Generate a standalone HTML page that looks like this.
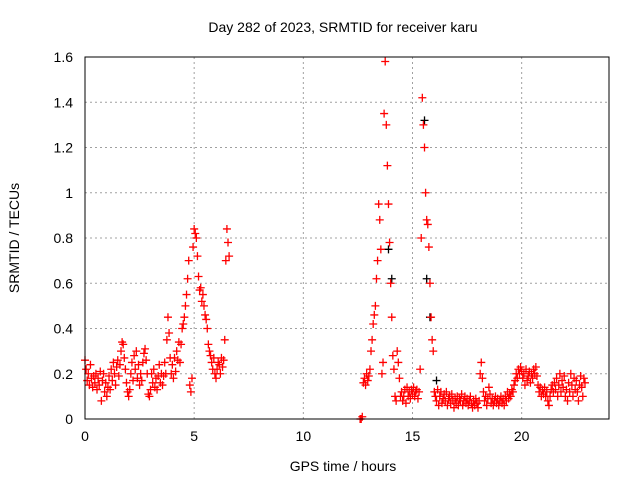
<!DOCTYPE html>
<html><head><meta charset="utf-8"><style>
body{margin:0;background:#fff;}
svg{display:block;font-family:"Liberation Sans",sans-serif;}
</style></head><body>
<svg id="chart" width="640" height="480">
<text x="343" y="32" text-anchor="middle" font-size="14">Day 282 of 2023, SRMTID for receiver karu</text>
<text x="343" y="471" text-anchor="middle" font-size="14">GPS time / hours</text>
<text transform="translate(19,238) rotate(-90)" text-anchor="middle" font-size="14">SRMTID / TECUs</text>
<g id="grid"></g>
<g id="ticks"></g>
<g id="black"></g>
<g id="red"></g>
<rect x="85" y="57" width="524" height="362" fill="none" stroke="#000" stroke-width="1"/>
</svg>
<script>
const xTicks=[0,5,10,15,20];
const yTicks=[0,0.2,0.4,0.6,0.8,1,1.2,1.4,1.6];
const yTickLabels=["0","0.2","0.4","0.6","0.8","1","1.2","1.4","1.6"];
const sampleStep=0.05;
const segAStart=0;
const segAValues=[0.26,0.22,0.17,0.2,0.15,0.24,0.18,0.14,0.19,0.16,
0.2,0.13,0.18,0.15,0.21,0.08,0.17,0.2,0.12,0.16,
0.1,0.14,0.19,0.13,0.22,0.17,0.25,0.2,0.15,0.23,
0.26,0.19,0.24,0.3,0.34,0.33,0.27,0.22,0.16,0.12,
0.1,0.13,0.2,0.25,0.17,0.28,0.22,0.3,0.18,0.24,
0.15,0.2,0.17,0.25,0.29,0.31,0.26,0.2,0.11,0.1,
0.13,0.2,0.16,0.22,0.14,0.18,0.13,0.19,0.24,0.16,
0.2,0.15,0.19,0.25,0.2,0.35,0.45,0.38,0.27,0.2,
0.24,0.18,0.27,0.21,0.3,0.26,0.34,0.25,0.33,0.4,
0.42,0.45,0.5,0.55,0.62,0.7,0.15,0.12,0.18,0.76,
0.84,0.82,0.8,0.72,0.63,0.57,0.58,0.52,0.55,0.5,
0.46,0.44,0.4,0.33,0.3,0.28,0.25,0.22,0.27,0.2,
0.18,0.22,0.25,0.24,0.2,0.27,0.23,0.26,0.35,0.7,
0.84,0.78,0.72];
const segBStart=12.6;
const segBValues=[0,0,0.01,0.16,0.18,0.15,0.2,0.17,
0.19,0.22,0.3,0.35,0.42,0.46,0.5,0.62,0.7,0.95,
0.88,0.75,0.2,0.25,1.35,1.58,1.3,1.12,0.95,0.78,
0.6,0.45,0.28,0.22,0.1,0.08,0.3,0.25,0.18,0.1,
0.12,0.08,0.1,0.13,0.07,0.14,0.1,0.12,0.09,0.13,
0.11,0.14,0.1,0.12,0.13,0.09,0.12,0.22,0.8,1.42,
1.3,1.2,1.0,0.88,0.86,0.76,0.6,0.45,0.35,0.3,
0.12,0.1,0.08,0.13,0.06,0.1,0.12,0.07,0.09,0.11,
0.08,0.12,0.06,0.09,0.1,0.07,0.11,0.08,0.05,0.09,
0.07,0.1,0.06,0.09,0.08,0.11,0.06,0.08,0.1,0.07,
0.09,0.06,0.08,0.1,0.07,0.05,0.08,0.06,0.09,0.07,
0.05,0.08,0.2,0.25,0.18,0.12,0.08,0.1,0.06,0.09,
0.14,0.11,0.07,0.09,0.06,0.08,0.1,0.07,0.09,0.06,
0.08,0.1,0.07,0.09,0.06,0.1,0.08,0.12,0.09,0.11,
0.1,0.13,0.12,0.15,0.17,0.2,0.18,0.22,0.2,0.23,
0.21,0.18,0.2,0.15,0.22,0.17,0.19,0.21,0.16,0.2,
0.18,0.22,0.2,0.23,0.19,0.15,0.12,0.14,0.1,0.13,
0.11,0.14,0.1,0.12,0.08,0.06,0.1,0.13,0.15,0.12,
0.16,0.13,0.18,0.1,0.15,0.2,0.12,0.17,0.14,0.19,
0.1,0.13,0.08,0.16,0.12,0.2,0.15,0.1,0.18,0.13,
0.17,0.12,0.08,0.15,0.19,0.14,0.1,0.18,0.16];
const blackTimes=[13.9,14.05,15.55,15.65,15.8,16.1];
const blackValues=[0.75,0.62,1.32,0.62,0.45,0.17];

const NS='http://www.w3.org/2000/svg';
const X0=85,X1=609,Y0=419,Y1=57,XMAX=24,YMAX=1.6;
function xs(t){return X0+t/XMAX*(X1-X0);}
function ys(v){return Y0-v/YMAX*(Y0-Y1);}
function mk(tag,attrs,parent){const e=document.createElementNS(NS,tag);for(const k in attrs)e.setAttribute(k,attrs[k]);parent.appendChild(e);return e;}
const grid=document.getElementById('grid'),ticks=document.getElementById('ticks');
xTicks.forEach(t=>{
  const x=xs(t);
  if(t>0){const g=mk('line',{x1:x,x2:x,y1:Y1,y2:Y0,stroke:'#a0a0a0','stroke-dasharray':'2,3'},grid);
  
  }
  const l=mk('text',{x:x,y:Y0+22,'text-anchor':'middle','font-size':'14'},ticks);
  l.textContent=t;
  
  
});
yTicks.forEach((v,i)=>{
  const y=ys(v);
  if(v>0&&v<YMAX){const g=mk('line',{x1:X0,x2:X1,y1:y,y2:y,stroke:'#a0a0a0','stroke-dasharray':'2,3'},grid);
  
  }
  const l=mk('text',{x:X0-12,y:y+5,'text-anchor':'end','font-size':'14'},ticks);
  l.textContent=yTickLabels[i];
  
  
});
function plus(t,v,color,parent){
  const x=xs(t),y=ys(v);
  const p=mk('path',{d:`M${x-4},${y}h8M${x},${y-4}v8`,stroke:color,'stroke-width':'1.3',fill:'none'},parent);
  
  
}
const blk=document.getElementById('black'),red=document.getElementById('red');
blackTimes.forEach((t,i)=>plus(t,blackValues[i],'#000',blk));
segAValues.forEach((v,i)=>plus(segAStart+i*sampleStep,v,'#ff0000',red));
segBValues.forEach((v,i)=>plus(segBStart+i*sampleStep,v,'#ff0000',red));
</script>
</body></html>
